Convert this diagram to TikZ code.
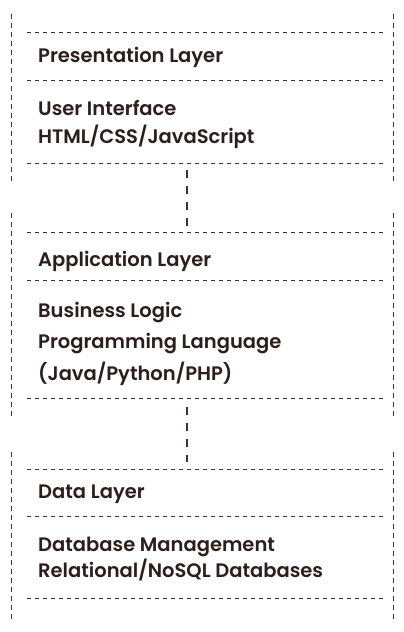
\documentclass[tikz,border=0pt]{standalone}
\usepackage{fontspec}
\setmainfont{Poppins}[UprightFont=* SemiBold]
\begin{document}
\begin{tikzpicture}[x=1pt,y=1pt,
  hline/.style={draw=linec, line width=1pt, dash pattern=on 4pt off 4pt},
  vline/.style={draw=linec, line width=1pt, dash pattern=on 4.5pt off 4.5pt},
  conn/.style={draw=linec, line width=1.3pt, dash pattern=on 8pt off 8pt},
  grp/.style={inner sep=0pt, minimum width=356pt},
  txt/.style={anchor=base west, inner sep=0pt, text=textc, font=\fontsize{19.5}{23}\selectfont}]
\definecolor{linec}{HTML}{3A3533}
\definecolor{textc}{HTML}{2B1E1B}
\useasboundingbox[fill=white] (0,0) rectangle (404,-632);
% groups
\node[grp, minimum height=130pt] (g1) at (205,-98) {};
\node[grp, minimum height=165pt] (g2) at (205,-315.5) {};
\node[grp, minimum height=128pt] (g3) at (205,-534) {};
% group 1
\draw[vline] (11,-14) -- (11,-181);
\draw[vline] (393,-14) -- (393,-181);
\draw[hline] (g1.north west) -- (g1.north east);
\draw[hline] (27,-80) -- (383,-80);
\draw[hline] (g1.south west) -- (g1.south east);
\node[txt] (t1) at (38,-62) {Presentation Layer};
\node[txt] (t2) at (38,-115) {User Interface};
\node[txt] (t3) at (38,-143) {HTML/CSS/JavaScript};
% group 2
\draw[vline] (11,-213) -- (11,-418);
\draw[vline] (393,-213) -- (393,-418);
\draw[hline] (g2.north west) -- (g2.north east);
\draw[hline] (27,-280) -- (383,-280);
\draw[hline] (g2.south west) -- (g2.south east);
\node[txt] (t4) at (38,-266) {Application Layer};
\node[txt] (t5) at (38,-317) {Business Logic};
\node[txt] (t6) at (38,-348.5) {Programming Language};
\node[txt] (t7) at (38,-380) {(Java/Python/PHP)};
% group 3
\draw[vline] (11,-452) -- (11,-622);
\draw[vline] (393,-452) -- (393,-622);
\draw[hline] (g3.north west) -- (g3.north east);
\draw[hline] (27,-516) -- (383,-516);
\draw[hline] (g3.south west) -- (g3.south east);
\node[txt] (t8) at (38,-498) {Data Layer};
\node[txt] (t9) at (38,-551) {Database Management};
\node[txt] (t10) at (38,-577) {Relational/NoSQL Databases};
% connectors
\draw[conn, shorten <=7pt, shorten >=7pt] ([xshift=-18pt]g1.south) -- ([xshift=-18pt]g2.north);
\draw[conn, shorten <=9pt, shorten >=8pt] ([xshift=-18pt]g2.south) -- ([xshift=-18pt]g3.north);
\end{tikzpicture}
\end{document}
